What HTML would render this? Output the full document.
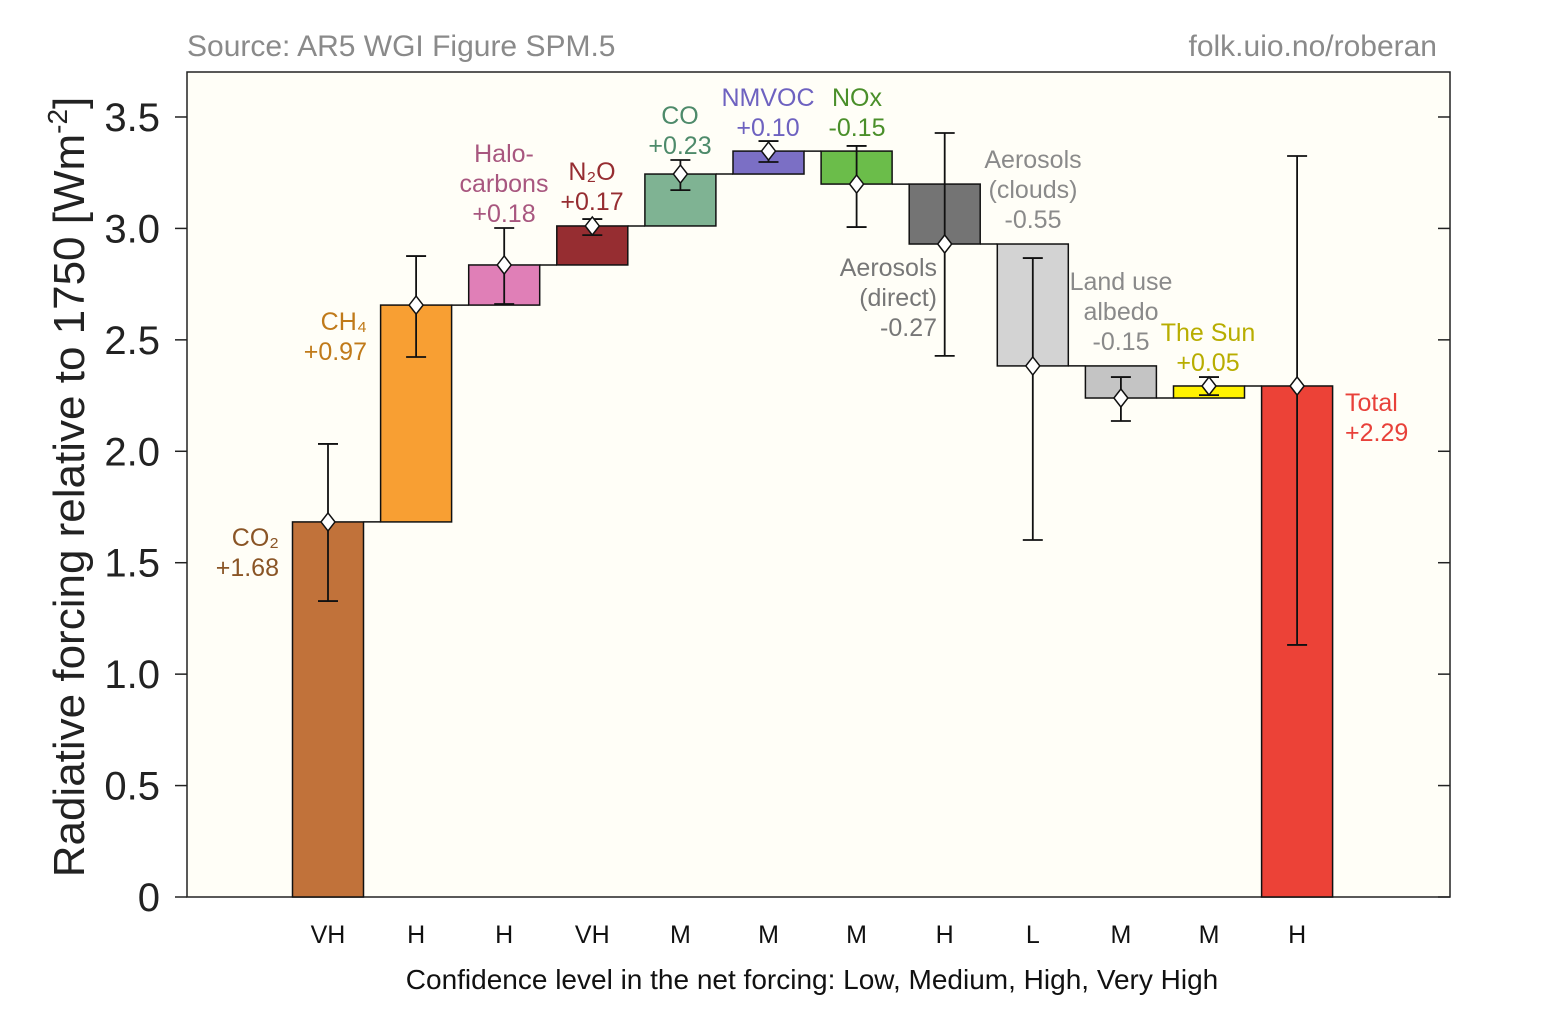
<!DOCTYPE html>
<html><head><meta charset="utf-8"><style>
body{margin:0;background:#fff;}
svg text{font-family:"Liberation Sans",Arial,sans-serif;}
</style></head><body>
<svg id="chart" width="1563" height="1018" xmlns="http://www.w3.org/2000/svg">
<rect x="0" y="0" width="1563" height="1018" fill="#fff"/>
<rect x="187" y="72" width="1263" height="825" fill="#fffef7" stroke="#222" stroke-width="1.5"/>
<text x="187" y="56" font-size="30" fill="#8a8a8a">Source: AR5 WGI Figure SPM.5</text>
<text x="1437" y="56" font-size="30" fill="#8a8a8a" text-anchor="end">folk.uio.no/roberan</text>
<text transform="translate(84,487) rotate(-90)" font-size="44" fill="#222" text-anchor="middle">Radiative forcing relative to 1750 [Wm<tspan dy="-17" font-size="28">-2</tspan><tspan dy="17">]</tspan></text>
<text x="812" y="989" font-size="28" fill="#111" text-anchor="middle">Confidence level in the net forcing: Low, Medium, High, Very High</text>
<g id="axes"></g><g id="bars"></g><g id="labels"></g>
</svg>
<script>
const deltas=[1.683,0.973,0.18,0.175,0.233,0.103,-0.148,-0.269,-0.547,-0.144,0.054];
const total=2.293;
const errLow=[1.328,2.423,2.661,2.970,3.172,3.298,3.006,2.428,1.602,2.136,2.252,1.131];
const errHigh=[2.033,2.876,3.002,3.042,3.307,3.392,3.370,3.428,2.867,2.333,2.333,3.325];
const confidence=["VH","H","H","VH","M","M","M","H","L","M","M","H"];
const colors=["#c1723a","#f89f33","#e07fb7","#962d31","#7fb393","#7b6fc5","#6bbd4a","#747474","#d3d3d3","#c4c4c4","#fff200","#ec4237"];
const yTicks=[0,0.5,1.0,1.5,2.0,2.5,3.0,3.5];
const yTickLabels=["0","0.5","1.0","1.5","2.0","2.5","3.0","3.5"];
const NS="http://www.w3.org/2000/svg";
const y=v=>897-v*222.86;
const xc=i=>328+88.1*i;
const bw=71;
function mk(tag,attrs,parent){const e=document.createElementNS(NS,tag);for(const k in attrs)e.setAttribute(k,attrs[k]);parent.appendChild(e);return e;}
const axes=document.getElementById('axes'),bars=document.getElementById('bars'),labels=document.getElementById('labels');
yTicks.forEach((t,i)=>{
 const l=mk('line',{x1:175,x2:187,y1:y(t),y2:y(t),stroke:'#222','stroke-width':1.5},axes);
 
 
 const r=mk('line',{x1:1438,x2:1450,y1:y(t),y2:y(t),stroke:'#222','stroke-width':1.5},axes);
 
 
 const tx=mk('text',{x:160,y:y(t)+14,'font-size':40,fill:'#222','text-anchor':'end'},axes);
 tx.textContent=yTickLabels[i];
 
 
});
let cum=0;const starts=[],ends=[];
deltas.forEach(d=>{starts.push(cum);cum+=d;ends.push(cum);});
starts.push(0);ends.push(total);
for(let i=0;i<12;i++){
 const a=starts[i],b=ends[i];
 const r=mk('rect',{x:xc(i)-bw/2,y:y(Math.max(a,b)),width:bw,height:Math.abs(y(a)-y(b)),fill:colors[i],stroke:'#111','stroke-width':1.5},bars);
 
 
 if(i<11){const c=mk('line',{x1:xc(i)+bw/2,x2:xc(i+1)-bw/2,y1:y(b),y2:y(b),stroke:'#111','stroke-width':1.5},bars);
 
 }
 const eg=mk('g',{},bars);
 
 
 mk('line',{x1:xc(i),x2:xc(i),y1:y(errLow[i]),y2:y(errHigh[i]),stroke:'#111','stroke-width':1.8},eg);
 mk('line',{x1:xc(i)-10,x2:xc(i)+10,y1:y(errLow[i]),y2:y(errLow[i]),stroke:'#111','stroke-width':1.8},eg);
 mk('line',{x1:xc(i)-10,x2:xc(i)+10,y1:y(errHigh[i]),y2:y(errHigh[i]),stroke:'#111','stroke-width':1.8},eg);
 const cy=y(b),cx=xc(i);
 const dm=mk('polygon',{points:`${cx},${cy-9} ${cx+7},${cy} ${cx},${cy+9} ${cx-7},${cy}`,fill:'#fff',stroke:'#111','stroke-width':1.5},bars);
 
 
 const ct=mk('text',{x:cx,y:943,'font-size':25,fill:'#111','text-anchor':'middle'},labels);
 ct.textContent=confidence[i];
 
 
}
const ann=[
 [[279,546,"CO₂"],[279,576,"+1.68"],"#8a5526","end"],
 [[367,330,"CH₄"],[367,360,"+0.97"],"#c07a1a","end"],
 [[504,162,"Halo-"],[504,192,"carbons"],[504,222,"+0.18"],"#a8577f","middle"],
 [[592,180,"N₂O"],[592,210,"+0.17"],"#962d31","middle"],
 [[680,124,"CO"],[680,154,"+0.23"],"#4d8a6a","middle"],
 [[768,106,"NMVOC"],[768,136,"+0.10"],"#6e62c0","middle"],
 [[857,106,"NOx"],[857,136,"-0.15"],"#4a8f2a","middle"],
 [[1033,168,"Aerosols"],[1033,198,"(clouds)"],[1033,228,"-0.55"],"#8a8a8a","middle"],
 [[937,276,"Aerosols"],[937,306,"(direct)"],[937,336,"-0.27"],"#777","end"],
 [[1121,290,"Land use"],[1121,320,"albedo"],[1121,350,"-0.15"],"#8a8a8a","middle"],
 [[1208,341,"The Sun"],[1208,371,"+0.05"],"#b8ad00","middle"],
 [[1345,411,"Total"],[1345,441,"+2.29"],"#e8413a","start"]
];
ann.forEach(a=>{
 const anchor=a[a.length-1],col=a[a.length-2];
 for(let k=0;k<a.length-2;k++){
  const t=mk('text',{x:a[k][0],y:a[k][1],'font-size':25,fill:col,'text-anchor':anchor},labels);
  t.textContent=a[k][2];
  
  
 }
});
</script>
</body></html>
